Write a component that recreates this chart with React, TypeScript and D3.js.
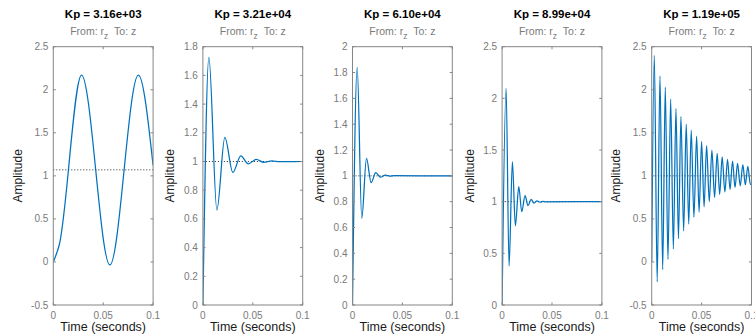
import React from "react";
import * as d3 from "d3";

// ---------- data ----------
const titles = ["Kp = 3.16e+03", "Kp = 3.21e+04", "Kp = 6.10e+04", "Kp = 8.99e+04", "Kp = 1.19e+05"];
const yMins = [-0.5, 0, 0, 0, -0.5];
const yMaxs = [2.5, 1.8, 2, 2.5, 2.5];
const yTickSteps = [0.5, 0.2, 0.2, 0.5, 0.5];
const xTicks = [0, 0.05, 0.1];
const xDomain = [0, 0.1];
const finalValues = [1.07, 1, 1, 1, 1];

const time1 = [0, 0.006, 0.0283, 0.0567, 0.0852, 0.1];
const resp1 = [0, 0.2, 2.17, -0.035, 2.17, 1.12];

const time2 = [0, 0.006, 0.014, 0.022, 0.03, 0.038, 0.0455, 0.0535, 0.061, 0.069, 0.077, 0.1];
const resp2 = [0, 1.725, 0.662, 1.168, 0.924, 1.04, 0.983, 1.015, 0.994, 1.004, 0.999, 1];

const time3 = [0, 0.0047, 0.0093, 0.014, 0.0187, 0.0233, 0.028, 0.0327, 0.0373, 0.042, 0.1];
const resp3 = [0, 1.84, 0.671, 1.135, 0.947, 1.025, 0.99, 1.005, 0.998, 1.001, 1];

const time4 = [0, 0.004, 0.007, 0.0103, 0.0133, 0.0167, 0.0197, 0.023, 0.026, 0.029, 0.032, 0.035, 0.038, 0.041, 0.044, 0.1];
const resp4 = [0, 2.097, 0.377, 1.387, 0.765, 1.145, 0.903, 1.058, 0.961, 1.023, 0.987, 1.008, 0.996, 1.002, 0.999, 1];

const time5 = [
  0, 0.0026, 0.0055, 0.0083, 0.011, 0.0136, 0.0163, 0.019, 0.0217, 0.0243, 0.0268,
  0.0293, 0.032, 0.0346, 0.0371, 0.0396, 0.0423, 0.045, 0.0475, 0.05, 0.0525,
  0.055, 0.0577, 0.0603, 0.063, 0.0656, 0.0681, 0.0706, 0.0733, 0.076, 0.0785,
  0.081, 0.0835, 0.086, 0.0887, 0.0913, 0.0938, 0.0963, 0.0989, 0.1,
];
const resp5 = [
  0, 2.4, -0.23, 2.16, -0.09, 2.03, 0.03, 1.89, 0.15, 1.78, 0.27,
  1.69, 0.36, 1.6, 0.44, 1.53, 0.52, 1.46, 0.58, 1.4, 0.64,
  1.35, 0.7, 1.3, 0.75, 1.26, 0.785, 1.22, 0.815, 1.19, 0.84,
  1.17, 0.865, 1.145, 0.885, 1.13, 0.895, 1.11, 0.9, 0.9,
];

const times = [time1, time2, time3, time4, time5];
const responses = [resp1, resp2, resp3, resp4, resp5];

// ---------- layout ----------
const W = 755;
const H = 336;
const plotTop = 46.7;
const plotBottom = 305;
const firstLeft = 53.3;
const panelStep = 149.6;
const plotWidth = 99.8;
const FONT = "'Liberation Sans', Arial, Helvetica, sans-serif";
const axisColor = "#858585";
const labelGrey = "#7a7a7a";
const lineColor = "#0072bd";
const tickLen = 2.6;

let ctx: CanvasRenderingContext2D | null = null;
function measure(text: string, font: string) {
  if (!ctx) ctx = document.createElement("canvas").getContext("2d");
  if (!ctx) return text.length * 5.5;
  ctx.font = font;
  return ctx.measureText(text).width;
}

const fmt = (v: number) => String(+v.toFixed(3));

function Panel({ i }: { i: number }) {
  const left = firstLeft + i * panelStep;
  const right = left + plotWidth;
  const cx = (left + right) / 2;
  const x = d3.scaleLinear().domain(xDomain).range([left, right]);
  const y = d3.scaleLinear().domain([yMins[i], yMaxs[i]]).range([plotBottom, plotTop]);
  const yTicks = d3.range(yMins[i], yMaxs[i] + yTickSteps[i] / 2, yTickSteps[i]);
  const data = times[i].map((t, k) => [t, responses[i][k]] as [number, number]);
  const line = d3
    .line<[number, number]>()
    .x((d) => x(d[0]))
    .y((d) => y(d[1]))
    .curve(d3.curveMonotoneX);
  const maxW = d3.max(yTicks, (v) => measure(fmt(v), `10px ${FONT}`)) || 0;
  const ylabX = left - maxW - 14.5;
  const midY = (plotTop + plotBottom) / 2;

  return (
    <g>
      <text x={cx} y={18} textAnchor="middle" fontFamily={FONT} fontSize={11.5} fontWeight="bold" fill="#000">
        {titles[i]}
      </text>
      <text x={cx} y={35} textAnchor="middle" fontFamily={FONT} fontSize={10.5} fill={labelGrey}>
        <tspan>From: r</tspan>
        <tspan dy={4} fontSize={8.5}>z</tspan>
        <tspan dy={-4}>{"\u00a0\u00a0To: z"}</tspan>
      </text>

      <defs>
        <clipPath id={`clip${i}`}>
          <rect x={left} y={plotTop} width={plotWidth} height={plotBottom - plotTop} />
        </clipPath>
      </defs>

      <line
        x1={x(xDomain[0])}
        x2={x(xDomain[1])}
        y1={y(finalValues[i])}
        y2={y(finalValues[i])}
        stroke="#1a1a1a"
        strokeWidth={0.9}
        strokeDasharray="1 2"
      />
      <path d={line(data) || ""} fill="none" stroke={lineColor} strokeWidth={1.25} clipPath={`url(#clip${i})`} />

      <rect x={left} y={plotTop} width={plotWidth} height={plotBottom - plotTop} fill="none" stroke={axisColor} strokeWidth={1} />

      {yTicks.map((v) => (
        <g key={`y${v}`}>
          <line x1={left} x2={left + tickLen} y1={y(v)} y2={y(v)} stroke={axisColor} />
          <line x1={right} x2={right - tickLen} y1={y(v)} y2={y(v)} stroke={axisColor} />
          <text x={left - 5} y={y(v)} dy="0.35em" textAnchor="end" fontFamily={FONT} fontSize={10} fill={labelGrey}>
            {fmt(v)}
          </text>
        </g>
      ))}
      {xTicks.map((v) => (
        <g key={`x${v}`}>
          <line x1={x(v)} x2={x(v)} y1={plotBottom} y2={plotBottom - tickLen} stroke={axisColor} />
          <line x1={x(v)} x2={x(v)} y1={plotTop} y2={plotTop + tickLen} stroke={axisColor} />
          <text x={x(v)} y={319} textAnchor="middle" fontFamily={FONT} fontSize={10} fill={labelGrey}>
            {fmt(v)}
          </text>
        </g>
      ))}

      <text x={cx} y={331} textAnchor="middle" fontFamily={FONT} fontSize={12.5} fill="#1a1a1a">
        Time (seconds)
      </text>
      <text
        transform={`translate(${ylabX},${midY}) rotate(-90)`}
        textAnchor="middle"
        fontFamily={FONT}
        fontSize={12}
        fill="#1a1a1a"
      >
        Amplitude
      </text>
    </g>
  );
}

export default function App() {
  return (
    <svg width={W} height={H} style={{ position: "absolute", left: 0, top: 0, background: "#fff" }}>
      <rect x={0} y={0} width={W} height={H} fill="#fff" />
      {titles.map((_, i) => (
        <Panel key={i} i={i} />
      ))}
    </svg>
  );
}
